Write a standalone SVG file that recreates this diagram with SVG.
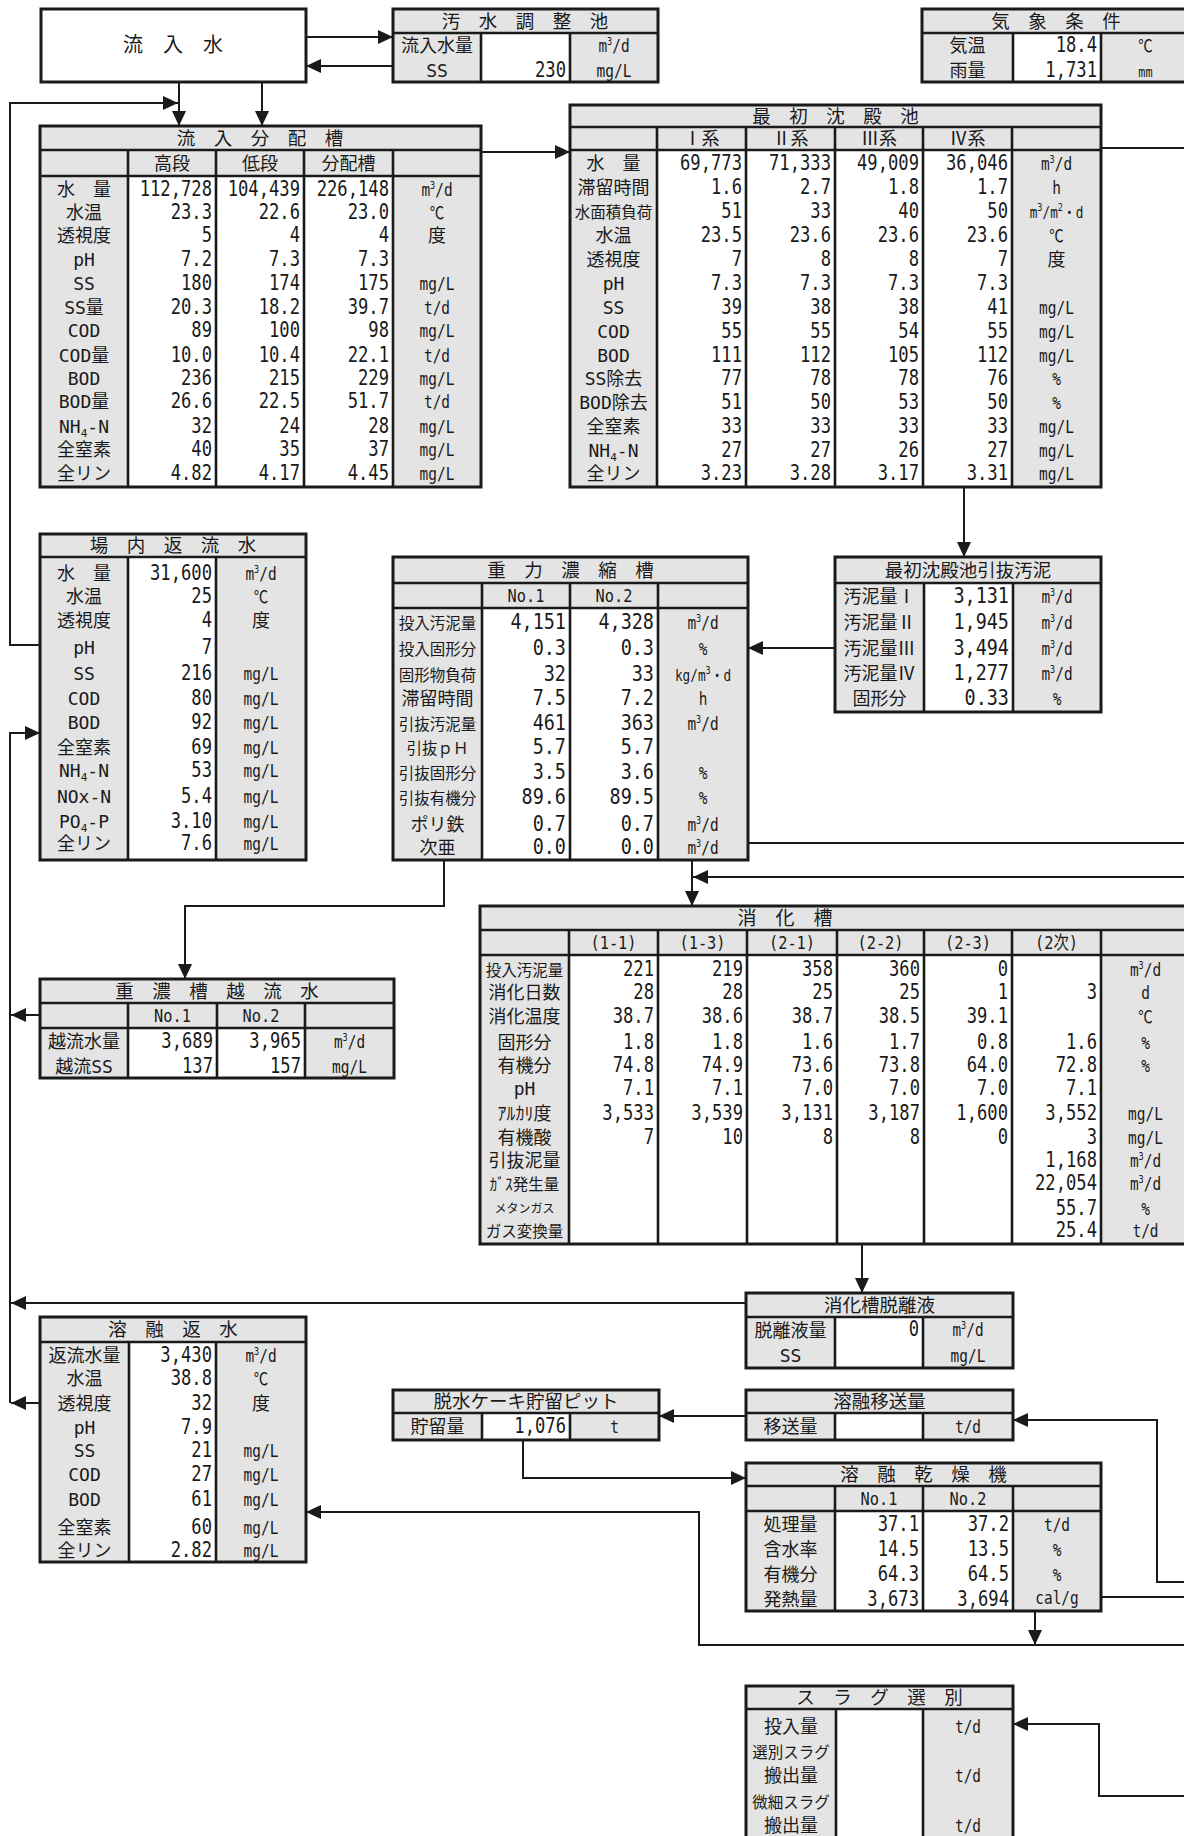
<svg xmlns="http://www.w3.org/2000/svg" width="1184" height="1836" viewBox="0 0 1184 1836">
<defs>
<style>
.bg{fill:#e4e4e4}
.wh{fill:#fff}
.bx{fill:none;stroke:#1a1a1a;stroke-width:3}
.ln{fill:none;stroke:#1a1a1a;stroke-width:2.6}
text{font-family:"DejaVu Sans Mono","Noto Sans CJK JP",monospace;fill:#1a1a1a}
.t{font-family:"Noto Sans CJK JP",sans-serif;font-size:18.5px;text-anchor:middle}
.l{font-size:18px;text-anchor:middle}
.s{font-size:15.5px;text-anchor:middle}
.xs{font-size:12px;text-anchor:middle}
.n{font-size:22px;text-anchor:end;transform-box:fill-box;transform-origin:100% 50%;transform:scaleX(.78)}
.nb{font-size:22px;text-anchor:end;transform-box:fill-box;transform-origin:100% 50%;transform:scaleX(.84)}
.u{font-size:17px;text-anchor:middle;transform-box:fill-box;transform-origin:50% 50%;transform:scaleX(.85)}
.h{font-size:18px;text-anchor:middle;transform-box:fill-box;transform-origin:50% 50%;transform:scaleX(.85)}
.sp{font-size:10px}
.sb{font-size:11px}
#conn path{fill:none;stroke:#1a1a1a;stroke-width:2}
</style>
<marker id="ah" viewBox="0 0 15 14" refX="15" refY="7" markerWidth="15" markerHeight="14" markerUnits="userSpaceOnUse" orient="auto"><path d="M0,0L15,7L0,14z" fill="#1a1a1a"/></marker>
</defs>
<rect width="1184" height="1836" fill="#fff"/>

<g id="ryunyusui">
<rect x="41" y="9" width="265" height="73" fill="#fff" stroke="#1a1a1a" stroke-width="3"/>
<text x="173" y="52" style="font-family:'Noto Sans CJK JP',sans-serif;font-size:20px;text-anchor:middle">流　入　水</text>
</g>

<g id="osui-chousei">
<rect class="bg" x="393" y="9" width="265" height="73"/>
<rect class="wh" x="481" y="33" width="89" height="49"/>
<path class="ln" d="M393 33H658M481 33V82M570 33V82"/>
<rect class="bx" x="393" y="9" width="265" height="73"/>
<text class="t" x="525" y="27.5">汚　水　調　整　池</text>
<text class="l" x="437" y="52">流入水量</text>
<text class="l" x="437" y="77">SS</text>
<text class="n" x="566" y="77">230</text>
<text class="u" x="614" y="52">m<tspan class="sp" dy="-7">3</tspan><tspan dy="7">/d</tspan></text>
<text class="u" x="614" y="77">mg/L</text>
</g>

<g id="kishou">
<rect class="bg" x="922" y="9" width="268" height="73"/>
<rect class="wh" x="1013" y="33" width="88" height="49"/>
<path class="ln" d="M922 33H1190M1013 33V82M1101 33V82"/>
<rect class="bx" x="922" y="9" width="268" height="73"/>
<text class="t" x="1056" y="27.5">気　象　条　件</text>
<text class="l" x="967.5" y="52">気温</text>
<text class="l" x="967.5" y="77">雨量</text>
<text class="n" x="1097" y="52">18.4</text>
<text class="n" x="1097" y="77">1,731</text>
<text class="u" x="1145.5" y="52">℃</text>
<text class="u" x="1145.5" y="77" style="font-size:14px">mm</text>
</g>

<g id="bunpai">
<rect class="bg" x="40" y="126" width="441" height="361"/>
<rect class="wh" x="128" y="176" width="265" height="311"/>
<path class="ln" d="M40 150H481M40 176H481M128 150V487M216 150V487M304 150V487M393 150V487"/>
<rect class="bx" x="40" y="126" width="441" height="361"/>
<text class="t" x="260" y="144.5">流　入　分　配　槽</text>
<text class="l" x="172" y="169.5">高段</text>
<text class="l" x="260" y="169.5">低段</text>
<text class="l" x="348.5" y="169.5">分配槽</text>
<text class="l" x="84" y="196">水　量</text>
<text class="l" x="84" y="219">水温</text>
<text class="l" x="84" y="242">透視度</text>
<text class="l" x="84" y="266">pH</text>
<text class="l" x="84" y="290">SS</text>
<text class="l" x="84" y="314">SS量</text>
<text class="l" x="84" y="337">COD</text>
<text class="l" x="84" y="362">COD量</text>
<text class="l" x="84" y="385">BOD</text>
<text class="l" x="84" y="408">BOD量</text>
<text class="l" x="84" y="433">NH<tspan class="sb" dy="4">4</tspan><tspan dy="-4">-N</tspan></text>
<text class="l" x="84" y="456">全窒素</text>
<text class="l" x="84" y="480">全リン</text>
<text class="n" x="212" y="196">112,728</text><text class="n" x="300" y="196">104,439</text><text class="n" x="389" y="196">226,148</text>
<text class="n" x="212" y="219">23.3</text><text class="n" x="300" y="219">22.6</text><text class="n" x="389" y="219">23.0</text>
<text class="n" x="212" y="242">5</text><text class="n" x="300" y="242">4</text><text class="n" x="389" y="242">4</text>
<text class="n" x="212" y="266">7.2</text><text class="n" x="300" y="266">7.3</text><text class="n" x="389" y="266">7.3</text>
<text class="n" x="212" y="290">180</text><text class="n" x="300" y="290">174</text><text class="n" x="389" y="290">175</text>
<text class="n" x="212" y="314">20.3</text><text class="n" x="300" y="314">18.2</text><text class="n" x="389" y="314">39.7</text>
<text class="n" x="212" y="337">89</text><text class="n" x="300" y="337">100</text><text class="n" x="389" y="337">98</text>
<text class="n" x="212" y="362">10.0</text><text class="n" x="300" y="362">10.4</text><text class="n" x="389" y="362">22.1</text>
<text class="n" x="212" y="385">236</text><text class="n" x="300" y="385">215</text><text class="n" x="389" y="385">229</text>
<text class="n" x="212" y="408">26.6</text><text class="n" x="300" y="408">22.5</text><text class="n" x="389" y="408">51.7</text>
<text class="n" x="212" y="433">32</text><text class="n" x="300" y="433">24</text><text class="n" x="389" y="433">28</text>
<text class="n" x="212" y="456">40</text><text class="n" x="300" y="456">35</text><text class="n" x="389" y="456">37</text>
<text class="n" x="212" y="480">4.82</text><text class="n" x="300" y="480">4.17</text><text class="n" x="389" y="480">4.45</text>
<text class="u" x="437" y="196">m<tspan class="sp" dy="-7">3</tspan><tspan dy="7">/d</tspan></text>
<text class="u" x="437" y="219">℃</text>
<text class="l" x="437" y="242">度</text>
<text class="u" x="437" y="290">mg/L</text>
<text class="u" x="437" y="314">t/d</text>
<text class="u" x="437" y="337">mg/L</text>
<text class="u" x="437" y="362">t/d</text>
<text class="u" x="437" y="385">mg/L</text>
<text class="u" x="437" y="408">t/d</text>
<text class="u" x="437" y="433">mg/L</text>
<text class="u" x="437" y="456">mg/L</text>
<text class="u" x="437" y="480">mg/L</text>
</g>

<g id="saisho-chinden">
<rect class="bg" x="570" y="105" width="531" height="382"/>
<rect class="wh" x="657" y="150" width="355" height="337"/>
<path class="ln" d="M570 127H1101M570 150H1101M657 127V487M746 127V487M835 127V487M923 127V487M1012 127V487"/>
<rect class="bx" x="570" y="105" width="531" height="382"/>
<text class="t" x="835.5" y="122.5">最　初　沈　殿　池</text>
<text class="l" x="701.5" y="145">Ⅰ系</text>
<text class="l" x="790.5" y="145">Ⅱ系</text>
<text class="l" x="879" y="145">Ⅲ系</text>
<text class="l" x="967.5" y="145">Ⅳ系</text>
<text class="l" x="613.5" y="170">水　量</text>
<text class="l" x="613.5" y="194">滞留時間</text>
<text class="s" x="613.5" y="218">水面積負荷</text>
<text class="l" x="613.5" y="242">水温</text>
<text class="l" x="613.5" y="266">透視度</text>
<text class="l" x="613.5" y="290">pH</text>
<text class="l" x="613.5" y="314">SS</text>
<text class="l" x="613.5" y="338">COD</text>
<text class="l" x="613.5" y="362">BOD</text>
<text class="l" x="613.5" y="385">SS除去</text>
<text class="l" x="613.5" y="409">BOD除去</text>
<text class="l" x="613.5" y="433">全窒素</text>
<text class="l" x="613.5" y="457">NH<tspan class="sb" dy="4">4</tspan><tspan dy="-4">-N</tspan></text>
<text class="l" x="613.5" y="480">全リン</text>
<text class="n" x="742" y="170">69,773</text><text class="n" x="831" y="170">71,333</text><text class="n" x="919" y="170">49,009</text><text class="n" x="1008" y="170">36,046</text>
<text class="n" x="742" y="194">1.6</text><text class="n" x="831" y="194">2.7</text><text class="n" x="919" y="194">1.8</text><text class="n" x="1008" y="194">1.7</text>
<text class="n" x="742" y="218">51</text><text class="n" x="831" y="218">33</text><text class="n" x="919" y="218">40</text><text class="n" x="1008" y="218">50</text>
<text class="n" x="742" y="242">23.5</text><text class="n" x="831" y="242">23.6</text><text class="n" x="919" y="242">23.6</text><text class="n" x="1008" y="242">23.6</text>
<text class="n" x="742" y="266">7</text><text class="n" x="831" y="266">8</text><text class="n" x="919" y="266">8</text><text class="n" x="1008" y="266">7</text>
<text class="n" x="742" y="290">7.3</text><text class="n" x="831" y="290">7.3</text><text class="n" x="919" y="290">7.3</text><text class="n" x="1008" y="290">7.3</text>
<text class="n" x="742" y="314">39</text><text class="n" x="831" y="314">38</text><text class="n" x="919" y="314">38</text><text class="n" x="1008" y="314">41</text>
<text class="n" x="742" y="338">55</text><text class="n" x="831" y="338">55</text><text class="n" x="919" y="338">54</text><text class="n" x="1008" y="338">55</text>
<text class="n" x="742" y="362">111</text><text class="n" x="831" y="362">112</text><text class="n" x="919" y="362">105</text><text class="n" x="1008" y="362">112</text>
<text class="n" x="742" y="385">77</text><text class="n" x="831" y="385">78</text><text class="n" x="919" y="385">78</text><text class="n" x="1008" y="385">76</text>
<text class="n" x="742" y="409">51</text><text class="n" x="831" y="409">50</text><text class="n" x="919" y="409">53</text><text class="n" x="1008" y="409">50</text>
<text class="n" x="742" y="433">33</text><text class="n" x="831" y="433">33</text><text class="n" x="919" y="433">33</text><text class="n" x="1008" y="433">33</text>
<text class="n" x="742" y="457">27</text><text class="n" x="831" y="457">27</text><text class="n" x="919" y="457">26</text><text class="n" x="1008" y="457">27</text>
<text class="n" x="742" y="480">3.23</text><text class="n" x="831" y="480">3.28</text><text class="n" x="919" y="480">3.17</text><text class="n" x="1008" y="480">3.31</text>
<text class="u" x="1056.5" y="170">m<tspan class="sp" dy="-7">3</tspan><tspan dy="7">/d</tspan></text>
<text class="u" x="1056.5" y="194">h</text>
<text class="u" x="1056.5" y="218" style="font-size:15px">m<tspan class="sp" dy="-7">3</tspan><tspan dy="7">/m</tspan><tspan class="sp" dy="-7">2</tspan><tspan dy="7">・d</tspan></text>
<text class="u" x="1056.5" y="242">℃</text>
<text class="l" x="1056.5" y="266">度</text>
<text class="u" x="1056.5" y="314">mg/L</text>
<text class="u" x="1056.5" y="338">mg/L</text>
<text class="u" x="1056.5" y="362">mg/L</text>
<text class="u" x="1056.5" y="385">%</text>
<text class="u" x="1056.5" y="409">%</text>
<text class="u" x="1056.5" y="433">mg/L</text>
<text class="u" x="1056.5" y="457">mg/L</text>
<text class="u" x="1056.5" y="480">mg/L</text>
</g>

<g id="jounai-henryu">
<rect class="bg" x="40" y="534" width="266" height="326"/>
<rect class="wh" x="128" y="557" width="88" height="303"/>
<path class="ln" d="M40 557H306M128 557V860M216 557V860"/>
<rect class="bx" x="40" y="534" width="266" height="326"/>
<text class="t" x="173" y="552">場　内　返　流　水</text>
<text class="l" x="84" y="580">水　量</text>
<text class="l" x="84" y="603">水温</text>
<text class="l" x="84" y="627">透視度</text>
<text class="l" x="84" y="654">pH</text>
<text class="l" x="84" y="680">SS</text>
<text class="l" x="84" y="705">COD</text>
<text class="l" x="84" y="729">BOD</text>
<text class="l" x="84" y="754">全窒素</text>
<text class="l" x="84" y="777">NH<tspan class="sb" dy="4">4</tspan><tspan dy="-4">-N</tspan></text>
<text class="l" x="84" y="803">NOx-N</text>
<text class="l" x="84" y="828">PO<tspan class="sb" dy="4">4</tspan><tspan dy="-4">-P</tspan></text>
<text class="l" x="84" y="850">全リン</text>
<text class="n" x="212" y="580">31,600</text>
<text class="n" x="212" y="603">25</text>
<text class="n" x="212" y="627">4</text>
<text class="n" x="212" y="654">7</text>
<text class="n" x="212" y="680">216</text>
<text class="n" x="212" y="705">80</text>
<text class="n" x="212" y="729">92</text>
<text class="n" x="212" y="754">69</text>
<text class="n" x="212" y="777">53</text>
<text class="n" x="212" y="803">5.4</text>
<text class="n" x="212" y="828">3.10</text>
<text class="n" x="212" y="850">7.6</text>
<text class="u" x="261" y="580">m<tspan class="sp" dy="-7">3</tspan><tspan dy="7">/d</tspan></text>
<text class="u" x="261" y="603">℃</text>
<text class="l" x="261" y="627">度</text>
<text class="u" x="261" y="680">mg/L</text>
<text class="u" x="261" y="705">mg/L</text>
<text class="u" x="261" y="729">mg/L</text>
<text class="u" x="261" y="754">mg/L</text>
<text class="u" x="261" y="777">mg/L</text>
<text class="u" x="261" y="803">mg/L</text>
<text class="u" x="261" y="828">mg/L</text>
<text class="u" x="261" y="850">mg/L</text>
</g>

<g id="juryoku-noushuku">
<rect class="bg" x="393" y="557" width="355" height="303"/>
<rect class="wh" x="482" y="608" width="176" height="252"/>
<path class="ln" d="M393 583H748M393 608H748M482 583V860M570 583V860M658 583V860"/>
<rect class="bx" x="393" y="557" width="355" height="303"/>
<text class="t" x="570.5" y="576.5">重　力　濃　縮　槽</text>
<text class="h" x="526" y="602">No.1</text>
<text class="h" x="614" y="602">No.2</text>
<text class="s" x="437.5" y="629">投入汚泥量</text>
<text class="s" x="437.5" y="655">投入固形分</text>
<text class="s" x="437.5" y="681">固形物負荷</text>
<text class="l" x="437.5" y="705">滞留時間</text>
<text class="s" x="437.5" y="730">引抜汚泥量</text>
<text class="s" x="437.5" y="754">引抜ｐＨ</text>
<text class="s" x="437.5" y="779">引抜固形分</text>
<text class="s" x="437.5" y="804">引抜有機分</text>
<text class="l" x="437.5" y="831">ポリ鉄</text>
<text class="l" x="437.5" y="854">次亜</text>
<text class="nb" x="566" y="629">4,151</text><text class="nb" x="654" y="629">4,328</text>
<text class="nb" x="566" y="655">0.3</text><text class="nb" x="654" y="655">0.3</text>
<text class="nb" x="566" y="681">32</text><text class="nb" x="654" y="681">33</text>
<text class="nb" x="566" y="705">7.5</text><text class="nb" x="654" y="705">7.2</text>
<text class="nb" x="566" y="730">461</text><text class="nb" x="654" y="730">363</text>
<text class="nb" x="566" y="754">5.7</text><text class="nb" x="654" y="754">5.7</text>
<text class="nb" x="566" y="779">3.5</text><text class="nb" x="654" y="779">3.6</text>
<text class="nb" x="566" y="804">89.6</text><text class="nb" x="654" y="804">89.5</text>
<text class="nb" x="566" y="831">0.7</text><text class="nb" x="654" y="831">0.7</text>
<text class="nb" x="566" y="854">0.0</text><text class="nb" x="654" y="854">0.0</text>
<text class="u" x="703" y="629">m<tspan class="sp" dy="-7">3</tspan><tspan dy="7">/d</tspan></text>
<text class="u" x="703" y="655">%</text>
<text class="u" x="703" y="681" style="font-size:15px">kg/m<tspan class="sp" dy="-7">3</tspan><tspan dy="7">・d</tspan></text>
<text class="u" x="703" y="705">h</text>
<text class="u" x="703" y="730">m<tspan class="sp" dy="-7">3</tspan><tspan dy="7">/d</tspan></text>
<text class="u" x="703" y="779">%</text>
<text class="u" x="703" y="804">%</text>
<text class="u" x="703" y="831">m<tspan class="sp" dy="-7">3</tspan><tspan dy="7">/d</tspan></text>
<text class="u" x="703" y="854">m<tspan class="sp" dy="-7">3</tspan><tspan dy="7">/d</tspan></text>
</g>

<g id="hikinuki-odei">
<rect class="bg" x="835" y="557" width="266" height="155"/>
<rect class="wh" x="924" y="583" width="89" height="129"/>
<path class="ln" d="M835 583H1101M924 583V712M1013 583V712"/>
<rect class="bx" x="835" y="557" width="266" height="155"/>
<text class="t" x="968" y="576.5">最初沈殿池引抜汚泥</text>
<text class="l" x="879.5" y="603">汚泥量Ⅰ</text>
<text class="l" x="879.5" y="629">汚泥量Ⅱ</text>
<text class="l" x="879.5" y="655">汚泥量Ⅲ</text>
<text class="l" x="879.5" y="680">汚泥量Ⅳ</text>
<text class="l" x="879.5" y="705">固形分</text>
<text class="nb" x="1009" y="603">3,131</text>
<text class="nb" x="1009" y="629">1,945</text>
<text class="nb" x="1009" y="655">3,494</text>
<text class="nb" x="1009" y="680">1,277</text>
<text class="nb" x="1009" y="705">0.33</text>
<text class="u" x="1057" y="603">m<tspan class="sp" dy="-7">3</tspan><tspan dy="7">/d</tspan></text>
<text class="u" x="1057" y="629">m<tspan class="sp" dy="-7">3</tspan><tspan dy="7">/d</tspan></text>
<text class="u" x="1057" y="655">m<tspan class="sp" dy="-7">3</tspan><tspan dy="7">/d</tspan></text>
<text class="u" x="1057" y="680">m<tspan class="sp" dy="-7">3</tspan><tspan dy="7">/d</tspan></text>
<text class="u" x="1057" y="705">%</text>
</g>

<g id="juno-etsuryu">
<rect class="bg" x="40" y="979" width="354" height="99"/>
<rect class="wh" x="128" y="1028" width="177" height="50"/>
<path class="ln" d="M40 1003H394M40 1028H394M128 1003V1078M217 1003V1078M305 1003V1078"/>
<rect class="bx" x="40" y="979" width="354" height="99"/>
<text class="t" x="217" y="997.5">重　濃　槽　越　流　水</text>
<text class="h" x="172.5" y="1022">No.1</text>
<text class="h" x="261" y="1022">No.2</text>
<text class="l" x="84" y="1048">越流水量</text>
<text class="l" x="84" y="1073">越流SS</text>
<text class="n" x="213" y="1048">3,689</text><text class="n" x="301" y="1048">3,965</text>
<text class="n" x="213" y="1073">137</text><text class="n" x="301" y="1073">157</text>
<text class="u" x="349.5" y="1048">m<tspan class="sp" dy="-7">3</tspan><tspan dy="7">/d</tspan></text>
<text class="u" x="349.5" y="1073">mg/L</text>
</g>

<g id="shoukasou">
<rect class="bg" x="480" y="906" width="710" height="338"/>
<rect class="wh" x="569" y="955" width="532" height="289"/>
<path class="ln" d="M480 930H1190M480 955H1190M569 930V1244M658 930V1244M747 930V1244M837 930V1244M924 930V1244M1012 930V1244M1101 930V1244"/>
<rect class="bx" x="480" y="906" width="710" height="338"/>
<text class="t" x="785" y="925" style="font-size:19px">消　化　槽</text>
<text class="h" x="613.5" y="949">(1-1)</text>
<text class="h" x="702.5" y="949">(1-3)</text>
<text class="h" x="792" y="949">(2-1)</text>
<text class="h" x="880.5" y="949">(2-2)</text>
<text class="h" x="968" y="949">(2-3)</text>
<text class="h" x="1056.5" y="949">(2次)</text>
<text class="s" x="524.5" y="976">投入汚泥量</text>
<text class="l" x="524.5" y="999">消化日数</text>
<text class="l" x="524.5" y="1023">消化温度</text>
<text class="l" x="524.5" y="1049">固形分</text>
<text class="l" x="524.5" y="1072">有機分</text>
<text class="l" x="524.5" y="1095">pH</text>
<text class="l" x="524.5" y="1120">ｱﾙｶﾘ度</text>
<text class="l" x="524.5" y="1144">有機酸</text>
<text class="l" x="524.5" y="1167">引抜泥量</text>
<text class="s" x="524.5" y="1190">ｶﾞｽ発生量</text>
<text class="xs" x="524.5" y="1213">メタンガス</text>
<text class="s" x="524.5" y="1237">ガス変換量</text>
<text class="n" x="654" y="976">221</text><text class="n" x="743" y="976">219</text><text class="n" x="833" y="976">358</text><text class="n" x="920" y="976">360</text><text class="n" x="1008" y="976">0</text>
<text class="n" x="654" y="999">28</text><text class="n" x="743" y="999">28</text><text class="n" x="833" y="999">25</text><text class="n" x="920" y="999">25</text><text class="n" x="1008" y="999">1</text><text class="n" x="1097" y="999">3</text>
<text class="n" x="654" y="1023">38.7</text><text class="n" x="743" y="1023">38.6</text><text class="n" x="833" y="1023">38.7</text><text class="n" x="920" y="1023">38.5</text><text class="n" x="1008" y="1023">39.1</text>
<text class="n" x="654" y="1049">1.8</text><text class="n" x="743" y="1049">1.8</text><text class="n" x="833" y="1049">1.6</text><text class="n" x="920" y="1049">1.7</text><text class="n" x="1008" y="1049">0.8</text><text class="n" x="1097" y="1049">1.6</text>
<text class="n" x="654" y="1072">74.8</text><text class="n" x="743" y="1072">74.9</text><text class="n" x="833" y="1072">73.6</text><text class="n" x="920" y="1072">73.8</text><text class="n" x="1008" y="1072">64.0</text><text class="n" x="1097" y="1072">72.8</text>
<text class="n" x="654" y="1095">7.1</text><text class="n" x="743" y="1095">7.1</text><text class="n" x="833" y="1095">7.0</text><text class="n" x="920" y="1095">7.0</text><text class="n" x="1008" y="1095">7.0</text><text class="n" x="1097" y="1095">7.1</text>
<text class="n" x="654" y="1120">3,533</text><text class="n" x="743" y="1120">3,539</text><text class="n" x="833" y="1120">3,131</text><text class="n" x="920" y="1120">3,187</text><text class="n" x="1008" y="1120">1,600</text><text class="n" x="1097" y="1120">3,552</text>
<text class="n" x="654" y="1144">7</text><text class="n" x="743" y="1144">10</text><text class="n" x="833" y="1144">8</text><text class="n" x="920" y="1144">8</text><text class="n" x="1008" y="1144">0</text><text class="n" x="1097" y="1144">3</text>
<text class="n" x="1097" y="1167">1,168</text>
<text class="n" x="1097" y="1190">22,054</text>
<text class="n" x="1097" y="1215">55.7</text>
<text class="n" x="1097" y="1237">25.4</text>
<text class="u" x="1145.5" y="976">m<tspan class="sp" dy="-7">3</tspan><tspan dy="7">/d</tspan></text>
<text class="u" x="1145.5" y="999">d</text>
<text class="u" x="1145.5" y="1023">℃</text>
<text class="u" x="1145.5" y="1049">%</text>
<text class="u" x="1145.5" y="1072">%</text>
<text class="u" x="1145.5" y="1120">mg/L</text>
<text class="u" x="1145.5" y="1144">mg/L</text>
<text class="u" x="1145.5" y="1167">m<tspan class="sp" dy="-7">3</tspan><tspan dy="7">/d</tspan></text>
<text class="u" x="1145.5" y="1190">m<tspan class="sp" dy="-7">3</tspan><tspan dy="7">/d</tspan></text>
<text class="u" x="1145.5" y="1215">%</text>
<text class="u" x="1145.5" y="1237">t/d</text>
</g>

<g id="dakkieki">
<rect class="bg" x="746" y="1293" width="267" height="75"/>
<rect class="wh" x="835" y="1317" width="88" height="51"/>
<path class="ln" d="M746 1317H1013M835 1317V1368M923 1317V1368"/>
<rect class="bx" x="746" y="1293" width="267" height="75"/>
<text class="t" x="879.5" y="1311.5">消化槽脱離液</text>
<text class="l" x="790.5" y="1336.5">脱離液量</text>
<text class="l" x="790.5" y="1362">SS</text>
<text class="n" x="919" y="1336.5">0</text>
<text class="u" x="968" y="1336.5">m<tspan class="sp" dy="-7">3</tspan><tspan dy="7">/d</tspan></text>
<text class="u" x="968" y="1362">mg/L</text>
</g>

<g id="youyu-isou">
<rect class="bg" x="746" y="1390" width="267" height="50"/>
<rect class="wh" x="835" y="1413" width="88" height="27"/>
<path class="ln" d="M746 1413H1013M835 1413V1440M923 1413V1440"/>
<rect class="bx" x="746" y="1390" width="267" height="50"/>
<text class="t" x="879.5" y="1408">溶融移送量</text>
<text class="l" x="790.5" y="1433">移送量</text>
<text class="u" x="968" y="1433">t/d</text>
</g>

<g id="cake-pit">
<rect class="bg" x="393" y="1390" width="266" height="50"/>
<rect class="wh" x="482" y="1413" width="88" height="27"/>
<path class="ln" d="M393 1413H659M482 1413V1440M570 1413V1440"/>
<rect class="bx" x="393" y="1390" width="266" height="50"/>
<text class="t" x="526" y="1408">脱水ケーキ貯留ピット</text>
<text class="l" x="437.5" y="1433">貯留量</text>
<text class="n" x="566" y="1433">1,076</text>
<text class="u" x="614.5" y="1433">t</text>
</g>

<g id="youyu-kansou">
<rect class="bg" x="746" y="1463" width="355" height="148"/>
<rect class="wh" x="835" y="1511" width="178" height="100"/>
<path class="ln" d="M746 1486H1101M746 1511H1101M835 1486V1611M923 1486V1611M1013 1486V1611"/>
<rect class="bx" x="746" y="1463" width="355" height="148"/>
<text class="t" x="923.5" y="1481">溶　融　乾　燥　機</text>
<text class="h" x="879" y="1505">No.1</text>
<text class="h" x="968" y="1505">No.2</text>
<text class="l" x="790.5" y="1531">処理量</text>
<text class="l" x="790.5" y="1556">含水率</text>
<text class="l" x="790.5" y="1581">有機分</text>
<text class="l" x="790.5" y="1606">発熱量</text>
<text class="n" x="919" y="1531">37.1</text><text class="n" x="1009" y="1531">37.2</text>
<text class="n" x="919" y="1556">14.5</text><text class="n" x="1009" y="1556">13.5</text>
<text class="n" x="919" y="1581">64.3</text><text class="n" x="1009" y="1581">64.5</text>
<text class="n" x="919" y="1606">3,673</text><text class="n" x="1009" y="1606">3,694</text>
<text class="u" x="1057" y="1531">t/d</text>
<text class="u" x="1057" y="1556">%</text>
<text class="u" x="1057" y="1581">%</text>
<text class="u" x="1057" y="1604">cal/g</text>
</g>

<g id="youyu-hensui">
<rect class="bg" x="40" y="1317" width="266" height="245"/>
<rect class="wh" x="129" y="1342" width="87" height="220"/>
<path class="ln" d="M40 1342H306M129 1342V1562M216 1342V1562"/>
<rect class="bx" x="40" y="1317" width="266" height="245"/>
<text class="t" x="173" y="1336">溶　融　返　水</text>
<text class="l" x="84.5" y="1362">返流水量</text>
<text class="l" x="84.5" y="1385">水温</text>
<text class="l" x="84.5" y="1410">透視度</text>
<text class="l" x="84.5" y="1434">pH</text>
<text class="l" x="84.5" y="1457">SS</text>
<text class="l" x="84.5" y="1481">COD</text>
<text class="l" x="84.5" y="1506">BOD</text>
<text class="l" x="84.5" y="1534">全窒素</text>
<text class="l" x="84.5" y="1557">全リン</text>
<text class="n" x="212" y="1362">3,430</text>
<text class="n" x="212" y="1385">38.8</text>
<text class="n" x="212" y="1410">32</text>
<text class="n" x="212" y="1434">7.9</text>
<text class="n" x="212" y="1457">21</text>
<text class="n" x="212" y="1481">27</text>
<text class="n" x="212" y="1506">61</text>
<text class="n" x="212" y="1534">60</text>
<text class="n" x="212" y="1557">2.82</text>
<text class="u" x="261" y="1362">m<tspan class="sp" dy="-7">3</tspan><tspan dy="7">/d</tspan></text>
<text class="u" x="261" y="1385">℃</text>
<text class="l" x="261" y="1410">度</text>
<text class="u" x="261" y="1457">mg/L</text>
<text class="u" x="261" y="1481">mg/L</text>
<text class="u" x="261" y="1506">mg/L</text>
<text class="u" x="261" y="1534">mg/L</text>
<text class="u" x="261" y="1557">mg/L</text>
</g>

<g id="slag-senbetsu">
<rect class="bg" x="746" y="1686" width="267" height="160"/>
<rect class="wh" x="836" y="1709" width="87" height="137"/>
<path class="ln" d="M746 1709H1013M836 1709V1846M923 1709V1846"/>
<rect class="bx" x="746" y="1686" width="267" height="160"/>
<text class="t" x="879.5" y="1704">ス　ラ　グ　選　別</text>
<text class="l" x="791" y="1733">投入量</text>
<text class="s" x="791" y="1758">選別スラグ</text>
<text class="l" x="791" y="1782">搬出量</text>
<text class="s" x="791" y="1808">微細スラグ</text>
<text class="l" x="791" y="1832">搬出量</text>
<text class="u" x="968" y="1733">t/d</text>
<text class="u" x="968" y="1782">t/d</text>
<text class="u" x="968" y="1832">t/d</text>
</g>

<g id="conn">
<path d="M306 37H393" marker-end="url(#ah)"/>
<path d="M393 66H306" marker-end="url(#ah)"/>
<path d="M179 82V126" marker-end="url(#ah)"/>
<path d="M262 82V126" marker-end="url(#ah)"/>
<path d="M40 645H10V103H178" marker-end="url(#ah)"/>
<path d="M481 152H570" marker-end="url(#ah)"/>
<path d="M1101 148H1184"/>
<path d="M964 487V557" marker-end="url(#ah)"/>
<path d="M835 648H748" marker-end="url(#ah)"/>
<path d="M748 843H1184"/>
<path d="M1184 877H693" marker-end="url(#ah)"/>
<path d="M692 860V906" marker-end="url(#ah)"/>
<path d="M444 860V906H185V979" marker-end="url(#ah)"/>
<path d="M40 1015H11" marker-end="url(#ah)"/>
<path d="M10 1403V733H40" marker-end="url(#ah)"/>
<path d="M40 1403H11" marker-end="url(#ah)"/>
<path d="M862 1244V1293" marker-end="url(#ah)"/>
<path d="M746 1303H11" marker-end="url(#ah)"/>
<path d="M746 1416H659" marker-end="url(#ah)"/>
<path d="M1184 1582H1157V1420H1013" marker-end="url(#ah)"/>
<path d="M523 1440V1478H746" marker-end="url(#ah)"/>
<path d="M1101 1597H1184"/>
<path d="M1035 1611V1645" marker-end="url(#ah)"/>
<path d="M1184 1645H699V1512H306" marker-end="url(#ah)"/>
<path d="M1184 1796H1099V1724H1013" marker-end="url(#ah)"/>
</g>
</svg>
